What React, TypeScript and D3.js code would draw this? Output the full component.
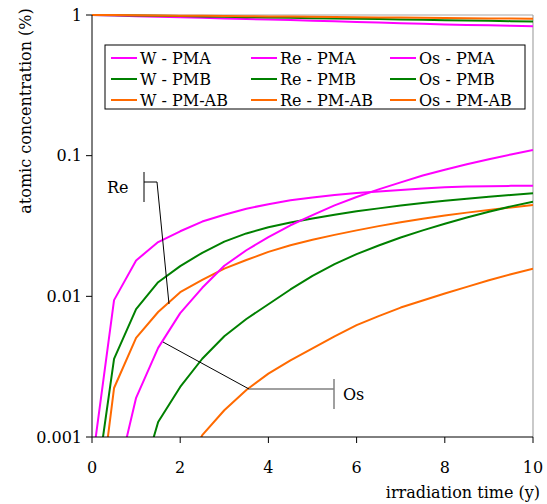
import React from "react";
import * as d3 from "d3";

const time = [0, 0.5, 1, 1.5, 2, 2.5, 3, 3.5, 4, 4.5, 5, 5.5, 6, 6.5, 7, 7.5, 8, 8.5, 9, 9.5, 10];

const wPMA = [1, 0.99, 0.98, 0.972, 0.963, 0.955, 0.946, 0.936, 0.929, 0.92, 0.911, 0.902, 0.893, 0.884, 0.875, 0.866, 0.857, 0.85, 0.844, 0.837, 0.831];
const wPMB = [1, 0.996, 0.991, 0.986, 0.982, 0.976, 0.97, 0.965, 0.96, 0.955, 0.95, 0.945, 0.94, 0.935, 0.93, 0.925, 0.919, 0.914, 0.909, 0.904, 0.899];
const wPMAB = [1, 0.998, 0.995, 0.992, 0.989, 0.986, 0.982, 0.98, 0.977, 0.974, 0.971, 0.968, 0.964, 0.961, 0.958, 0.955, 0.952, 0.949, 0.946, 0.943, 0.94];
const rePMA = [0.00063, 0.0094, 0.018, 0.0243, 0.029, 0.034, 0.038, 0.042, 0.0452, 0.0482, 0.0505, 0.0525, 0.0542, 0.0557, 0.0571, 0.0585, 0.0596, 0.0603, 0.0607, 0.061, 0.0612];
const rePMB = [0.00028, 0.00359, 0.0081, 0.0126, 0.0164, 0.0204, 0.0245, 0.028, 0.031, 0.0335, 0.0357, 0.038, 0.0402, 0.0422, 0.0442, 0.046, 0.0478, 0.0494, 0.051, 0.0525, 0.054];
const rePMAB = [0.000126, 0.00223, 0.00506, 0.00774, 0.0107, 0.0131, 0.01574, 0.01811, 0.0207, 0.02307, 0.02523, 0.02735, 0.02944, 0.03155, 0.03365, 0.03565, 0.03758, 0.03936, 0.04111, 0.04285, 0.04457];
const osPMA = [0.00008, 0.00041, 0.0019, 0.0043, 0.0076, 0.0115, 0.0165, 0.02126, 0.02638, 0.032, 0.0378, 0.0443, 0.0508, 0.0576, 0.0646, 0.0722, 0.0795, 0.087, 0.0944, 0.102, 0.1097];
const osPMB = [0.00003, 0.0001, 0.00037, 0.00128, 0.00227, 0.0036, 0.0052, 0.0069, 0.00879, 0.01119, 0.014, 0.01694, 0.01995, 0.023, 0.02618, 0.02944, 0.0328, 0.0363, 0.0399, 0.0436, 0.0471];
const osPMAB = [0.00001, 0.00003, 0.0001, 0.0002, 0.0005, 0.00103, 0.00155, 0.00216, 0.00282, 0.00351, 0.00426, 0.0052, 0.00624, 0.00724, 0.00832, 0.00935, 0.01047, 0.01167, 0.013, 0.01435, 0.0157];

const xTicks = [0, 2, 4, 6, 8, 10];
const yTicks = [0.001, 0.01, 0.1, 1];
const yTickLabels = ["0.001", "0.01", "0.1", "1"];

const seriesNames = [
  "W - PMA", "W - PMB", "W - PM-AB",
  "Re - PMA", "Re - PMB", "Re - PM-AB",
  "Os - PMA", "Os - PMB", "Os - PM-AB",
];
const seriesValues = [wPMA, wPMB, wPMAB, rePMA, rePMB, rePMAB, osPMA, osPMB, osPMAB];
const COLORS = ["#ff00ff", "#008000", "#ff6a00"];

const W = 547, H = 504;
const L = 92, R = 533, T = 15, B = 437;
const FONT = "'DejaVu Serif', serif";

export default function App() {
  const x = d3.scaleLinear().domain([0, 10]).range([L, R]);
  const y = d3.scaleLog().domain([0.001, 1]).range([B, T]);
  const line = d3
    .line<number>()
    .x((_, i) => x(time[i]))
    .y((v) => y(v));

  const legendCols = [111, 251, 390];
  const legendRows = [58, 79, 100];

  return (
    <svg
      width={W}
      height={H}
      style={{ position: "absolute", left: 0, top: 0, background: "#fff" }}
      fontFamily={FONT}
    >
      <defs>
        <clipPath id="plot">
          <rect x={L} y={T - 2} width={R - L} height={B - T + 2} />
        </clipPath>
      </defs>
      {/* plot border */}
      <line x1={L} x2={R} y1={T} y2={T} stroke="#a6a6a6" strokeWidth={1.2} />
      <line x1={R} x2={R} y1={T} y2={B} stroke="#a6a6a6" strokeWidth={1.2} />

      {/* series */}
      <g clipPath="url(#plot)">
        {seriesValues.map((vals, i) => (
          <path
            key={i}
            d={line(vals) || ""}
            fill="none"
            stroke={COLORS[i % 3]}
            strokeWidth={2}
            strokeLinejoin="round"
          />
        ))}
      </g>

      {/* axes */}
      <line x1={L} x2={L} y1={T} y2={B} stroke="#000" strokeWidth={1} />
      <line x1={L} x2={R} y1={B} y2={B} stroke="#000" strokeWidth={1} />
      {yTicks.map((t, i) => (
        <g key={"y" + i}>
          <line x1={L - 6} x2={L} y1={y(t)} y2={y(t)} stroke="#000" />
          <text
            x={L - 10}
            y={y(t)}
            dy="0.35em"
            textAnchor="end"
            fontSize={16}
            fill="#000"
          >
            {yTickLabels[i]}
          </text>
        </g>
      ))}
      {xTicks.map((t, i) => (
        <g key={"x" + i}>
          <line x1={x(t)} x2={x(t)} y1={B} y2={B + 6} stroke="#000" />
          <text x={x(t)} y={473} textAnchor="middle" fontSize={16} fill="#000">
            {t}
          </text>
        </g>
      ))}
      <text x={540} y={498} textAnchor="end" fontSize={16} fill="#000">
        irradiation time (y)
      </text>
      <text
        transform={`translate(31, 111) rotate(-90)`}
        textAnchor="middle"
        fontSize={16}
        fill="#000"
      >
        atomic concentration (%)
      </text>

      {/* legend */}
      <rect x={105} y={45} width={420} height={64} fill="#fff" stroke="#000" strokeWidth={1} />
      {seriesNames.map((name, i) => {
        const col = Math.floor(i / 3);
        const row = i % 3;
        const lx = legendCols[col];
        const ly = legendRows[row];
        return (
          <g key={"l" + i}>
            <line x1={lx} x2={lx + 26} y1={ly} y2={ly} stroke={COLORS[row]} strokeWidth={2} />
            <text x={lx + 29} y={ly} dy="0.35em" fontSize={16} fill="#000">
              {name}
            </text>
          </g>
        );
      })}

      {/* Re annotation */}
      <text x={107} y={193} fontSize={16} fill="#000">Re</text>
      <line x1={144} x2={144} y1={172} y2={202} stroke="#000" strokeWidth={1} />
      <polyline points="144,182 157,182 169,304" fill="none" stroke="#000" strokeWidth={1} />

      {/* Os annotation */}
      <line x1={163} y1={342} x2={249} y2={389} stroke="#000" strokeWidth={1} />
      <line x1={249} x2={334} y1={389} y2={389} stroke="#808080" strokeWidth={1.5} />
      <line x1={334} x2={334} y1={379} y2={409} stroke="#808080" strokeWidth={1.5} />
      <text x={343} y={400} fontSize={16} fill="#000">Os</text>
    </svg>
  );
}
